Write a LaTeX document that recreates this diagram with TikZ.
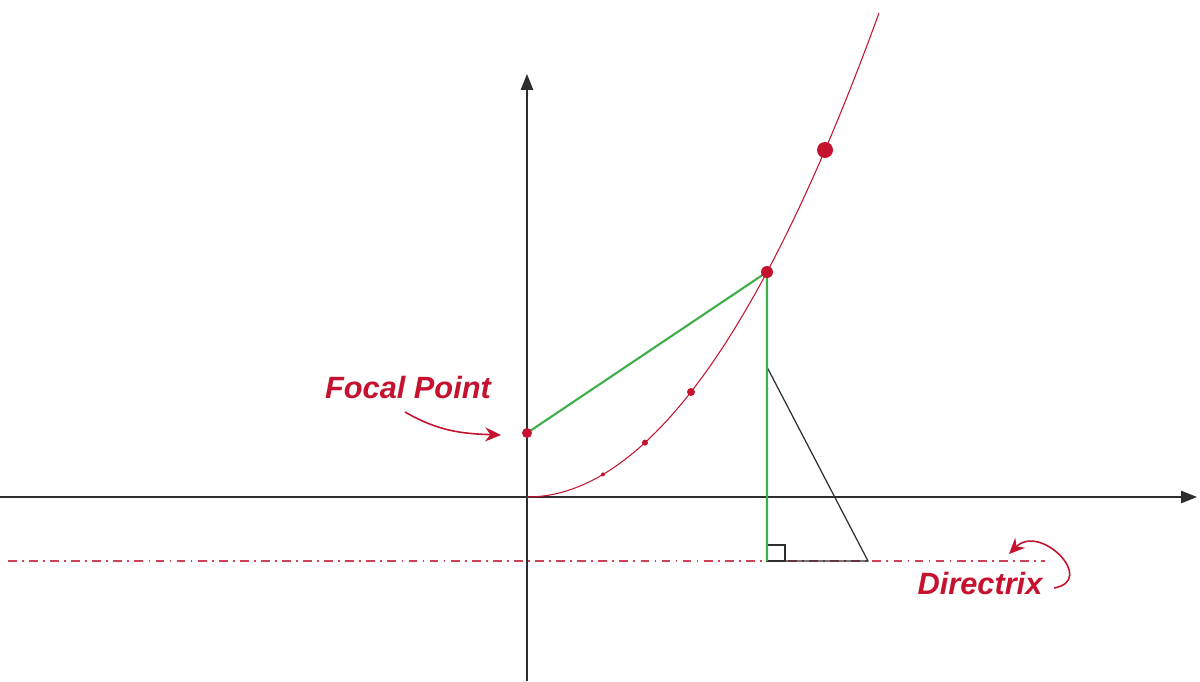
\documentclass[tikz,border=0pt]{standalone}
\usepackage{fontspec}
\setmainfont{Liberation Sans}
\usepackage{tikz}
\usetikzlibrary{arrows.meta, positioning}
\definecolor{Crimson}{HTML}{C4122F}
\definecolor{Leaf}{HTML}{3DAE49}
\definecolor{Ink}{HTML}{2E2E2E}

\tikzset{
  axis/.style={Ink, line width=0.7pt, -{Triangle[length=9pt, width=7pt]}},
  curvelabel/.style={text=Crimson, font=\fontsize{17.5}{20}\selectfont\bfseries\itshape},
  pointer/.style={Crimson, line width=0.9pt, -{Stealth[length=9pt, width=8pt]}}
}

\begin{document}
\begin{tikzpicture}[x=0.02cm, y=0.02cm]
  \useasboundingbox (-527,-184) rectangle (673,497);

  % points of the figure
  \coordinate (O) at (0,0);
  \coordinate (F) at (0,64);
  \coordinate (P) at (240,225);
  \coordinate (Q) at (298,347);
  \coordinate (D) at (240,-64);
  \coordinate (T) at (240,130);
  \coordinate (R) at (341,-64);

  % axes
  \draw[axis] (-527,0) -- (670,0);
  \draw[axis] (0,-184) -- (0,423);

  % directrix
  \draw[Crimson!80, line width=0.6pt, dash pattern=on 5pt off 3pt on 1pt off 3pt] (-519,-64) -- (518,-64);

  % parabola
  \draw[Crimson, line width=0.6pt, domain=0:352, samples=80] plot (\x, {(\x/16)*(\x/16)});

  % triangle and right angle
  \draw[Ink, line width=0.7pt] (T) -- (R) -- (D);
  \draw[Ink, line width=0.6pt] (D) rectangle ++(18,16);

  % distances
  \draw[Leaf, line width=1.2pt] (F) -- (P) -- (D);

  % dots
  \fill[Crimson] (F) circle (5);
  \fill[Crimson] (P) circle (6);
  \fill[Crimson] (Q) circle (8);
  \fill[Crimson] (76,22.6) circle (2);
  \fill[Crimson] (118,54.4) circle (3);
  \fill[Crimson] (164,105) circle (4);

  % labels
  \node[curvelabel] (focal) at (-119,109) {Focal Point};
  \node[curvelabel] (directrix) at (453,-86) {Directrix};
  \draw[pointer] (-122,85) to[out=-30, in=178] (-26,62);
  \draw[pointer] (527,-91) to[out=10, in=45, looseness=2] (482,-57);
\end{tikzpicture}
\end{document}
